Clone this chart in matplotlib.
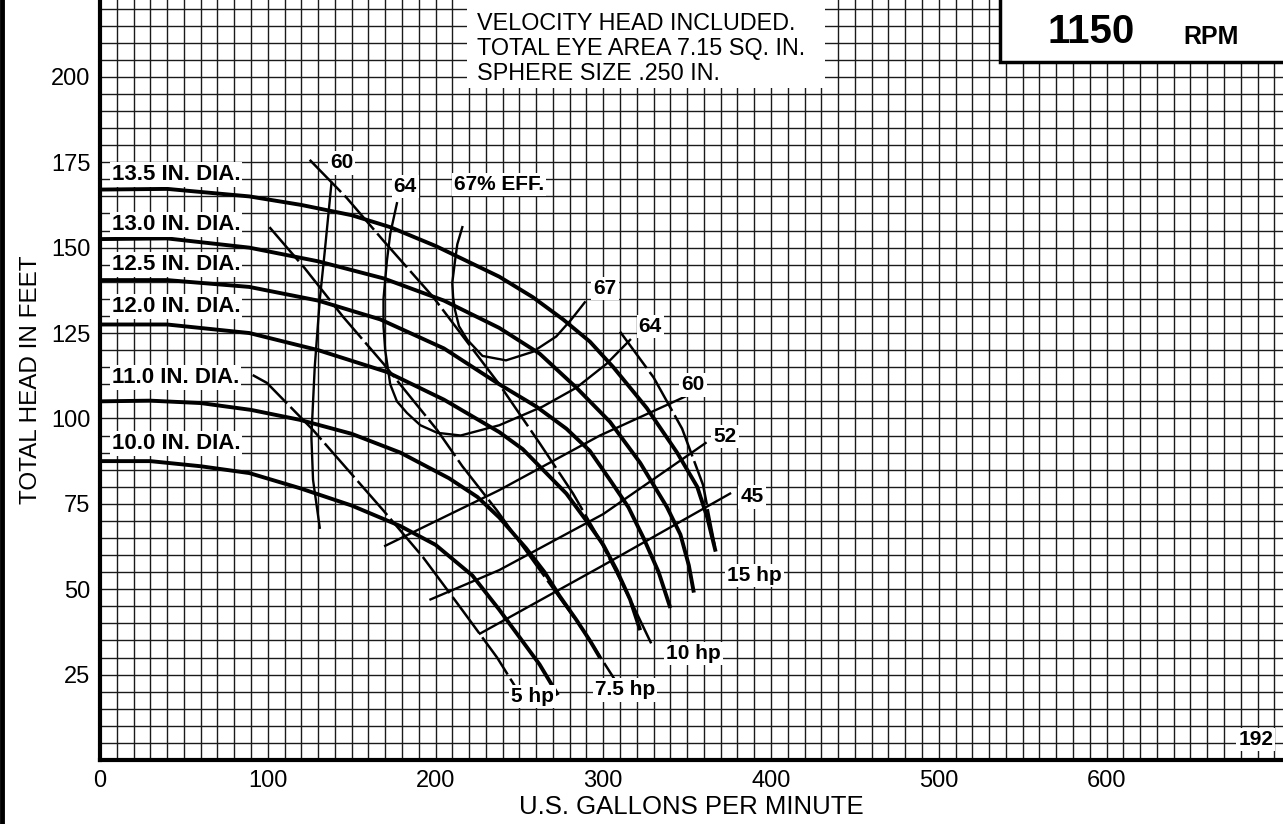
import matplotlib
matplotlib.use("Agg")
import matplotlib.pyplot as plt
from matplotlib.lines import Line2D

plt.rcParams['font.family'] = ['Liberation Sans', 'DejaVu Sans']

# head curves, (gpm, feet)
dia_labels = ["13.5 IN. DIA.", "13.0 IN. DIA.", "12.5 IN. DIA.",
              "12.0 IN. DIA.", "11.0 IN. DIA.", "10.0 IN. DIA."]
dia_label_y = [171.3, 156.7, 145.0, 132.7, 111.9, 92.8]

q_135 = [0, 40, 89, 120, 150, 173, 200, 238, 258, 276, 292, 306, 326, 344, 356, 362, 367]
h_135 = [167, 167.2, 165, 162.5, 159.5, 156, 150.5, 141.5, 135.5, 129, 122.5, 115, 103, 90, 80, 71, 61]
q_130 = [0, 40, 89, 130, 169, 205, 238, 262, 284, 304, 322, 338, 346, 351, 354]
h_130 = [152.5, 152.7, 150, 146, 141, 134.5, 126.5, 119, 109, 99, 87, 74, 66, 57, 49]
q_125 = [0, 40, 89, 130, 167, 205, 238, 260, 278, 292, 304, 315, 324, 333, 340]
h_125 = [140.5, 140.5, 138.5, 134.5, 129, 120.5, 110, 103.5, 97, 90.5, 82, 74, 65, 55, 44.5]
q_120 = [0, 40, 89, 130, 171, 205, 238, 252, 264, 278, 290, 300, 308, 316, 322]
h_120 = [127.5, 127.5, 125, 120, 113.6, 105.5, 96, 91, 85, 78, 70, 63, 55.6, 47, 38]
q_110 = [0, 30, 60, 90, 119, 150, 179, 208, 225, 238, 254, 265, 274, 284, 292, 298]
h_110 = [105, 105.2, 104.5, 102.5, 99.6, 95.5, 90, 82.5, 77, 71, 62, 55, 48, 41, 35, 30]
q_100 = [0, 30, 60, 89, 119, 150, 179, 200, 222, 238, 250, 262, 273]
h_100 = [87.5, 87.5, 86, 84, 79.6, 74.5, 68.5, 63, 54, 44, 36, 28, 19]

# efficiency lines
q_e60a = [138, 134, 131, 128, 126, 127, 131]
h_e60a = [169, 149, 134.7, 115, 94.6, 82, 68]
q_e64 = [177, 173, 171, 169, 169, 170, 173, 177, 183, 191, 201, 215, 238, 264, 284, 302, 316]
h_e64 = [163, 154, 146, 135, 127, 120, 110, 105, 101.6, 98, 95.8, 95, 98, 103.5, 109, 116, 123]
q_e67 = [216, 213, 211.6, 210, 210.5, 211.6, 214, 219, 228, 242, 258, 272, 281, 289]
h_e67 = [156, 151, 146, 139.7, 135.5, 131.8, 127, 123, 118.3, 117, 119.5, 124, 129, 134]
q_e60 = [170, 238, 298, 356]
h_e60 = [62.7, 79, 95, 108]
q_e52 = [197, 238, 300, 361]
h_e52 = [47, 55.6, 72, 92.8]
q_e45 = [226.5, 300, 375.6]
h_e45 = [37, 57, 78]

# horsepower lines
q_5hp = [91, 99.5, 127, 169, 192.5, 214.6, 236.7, 254.5]
h_5hp = [112.7, 110.4, 96.6, 73, 59.4, 44.8, 30, 16]
q_75hp = [101, 122, 145, 169, 201, 216, 236.7, 288, 312]
h_75hp = [156, 144, 129.7, 116, 96.6, 86, 73, 38, 19.6]
q_10hp = [125, 147, 169, 198.5, 238, 262, 282, 298, 308, 317, 329]
h_10hp = [175.7, 164.6, 152, 135.6, 110, 92.8, 78, 64.4, 54.8, 46, 33.7]
q_15hp = [310, 330, 347, 359.5, 366.6]
h_15hp = [125.4, 112, 97, 80.5, 62.4]

x_ticks = [0, 100, 200, 300, 400, 500, 600]
y_ticks = [25, 50, 75, 100, 125, 150, 175, 200]

fig = plt.figure(figsize=(12.83, 8.24), dpi=100)
ax = fig.add_axes([100 / 1283, 64 / 824, 1183 / 1283, 760 / 824])
ax.set_xlim(0, 705.2)
ax.set_ylim(0, 222.5)

# graph paper
for gx in range(10, 710, 10):
    ax.axvline(gx, color='#1a1a1a', lw=1.0, zorder=1)
for gy in range(5, 225, 5):
    ax.axhline(gy, color='#1a1a1a', lw=1.0, zorder=1)

heads = [(q_135, h_135), (q_130, h_130), (q_125, h_125),
         (q_120, h_120), (q_110, h_110), (q_100, h_100)]
for q, h in heads:
    ax.plot(q, h, color='black', lw=2.8, solid_capstyle='butt',
            solid_joinstyle='round', zorder=4)

for q, h in [(q_e60a, h_e60a), (q_e64, h_e64), (q_e67, h_e67),
             (q_e60, h_e60), (q_e52, h_e52), (q_e45, h_e45)]:
    ax.plot(q, h, color='black', lw=1.7, solid_joinstyle='round', zorder=3)

for q, h in [(q_5hp, h_5hp), (q_75hp, h_75hp), (q_10hp, h_10hp), (q_15hp, h_15hp)]:
    ax.plot(q, h, color='black', lw=1.8, dashes=(18, 2), zorder=3)

box = dict(facecolor='white', edgecolor='none', pad=1.5)
for lab, y in zip(dia_labels, dia_label_y):
    ax.text(7.0, y, lab, fontsize=16, fontweight='bold', ha='left', va='center',
            bbox=box, zorder=5)

small = [("60", 144, 174.8), ("64", 182, 168), ("67", 301, 138), ("64", 328, 126.8),
         ("60", 353.5, 109.8), ("52", 372.6, 94.6), ("45", 388.7, 77),
         ("15 hp", 390, 54), ("10 hp", 354, 31.3), ("7.5 hp", 313, 20.5),
         ("5 hp", 258, 18.7)]
for lab, x, y in small:
    ax.text(x, y, lab, fontsize=15, fontweight='bold', ha='center', va='center',
            bbox=box, zorder=5)
ax.text(211.0, 168.4, "67% EFF.", fontsize=15, fontweight='bold', ha='left',
        va='center', bbox=box, zorder=5)
ax.text(689, 5.9, "192", fontsize=15, fontweight='bold', ha='center', va='center',
        bbox=box, zorder=5)

# note box
fig.patches.append(plt.Rectangle((467 / 1283, 1 - 88 / 824), 358 / 1283, 88 / 824,
                                 transform=fig.transFigure, facecolor='white',
                                 edgecolor='none', zorder=6))
notes = ["VELOCITY HEAD INCLUDED.", "TOTAL EYE AREA 7.15 SQ. IN.", "SPHERE SIZE .250 IN."]
for i, t in enumerate(notes):
    fig.text(477 / 1283, 1 - (23 + 25 * i) / 824, t, fontsize=16.8, ha='left',
             va='center', zorder=7)

# rpm box
fig.patches.append(plt.Rectangle((1000 / 1283, 1 - 62 / 824), 290 / 1283, 70 / 824,
                                 transform=fig.transFigure, facecolor='white',
                                 edgecolor='black', lw=2.5, zorder=6))
fig.text(1091 / 1283, 1 - 32 / 824, "1150", fontsize=29, fontweight='bold',
         ha='center', va='center', zorder=7)
fig.text(1211 / 1283, 1 - 37 / 824, "RPM", fontsize=18, fontweight='bold',
         ha='center', va='center', zorder=7)

# left border of the sheet
fig.lines.append(Line2D([2 / 1283, 2 / 1283], [0, 1], transform=fig.transFigure,
                        color='black', lw=3.5))

ax.set_xticks(x_ticks)
ax.set_yticks(y_ticks)
ax.tick_params(length=0, labelsize=17, pad=7)
for s in ['top', 'right']:
    ax.spines[s].set_visible(False)
for s in ['left', 'bottom']:
    ax.spines[s].set_linewidth(3)
    ax.spines[s].set_zorder(6)
ax.set_xlabel("U.S. GALLONS PER MINUTE", fontsize=18.5, labelpad=2)
ax.set_ylabel("TOTAL HEAD IN FEET", fontsize=17.5, labelpad=6)

fig.savefig("out.png", dpi=100)
